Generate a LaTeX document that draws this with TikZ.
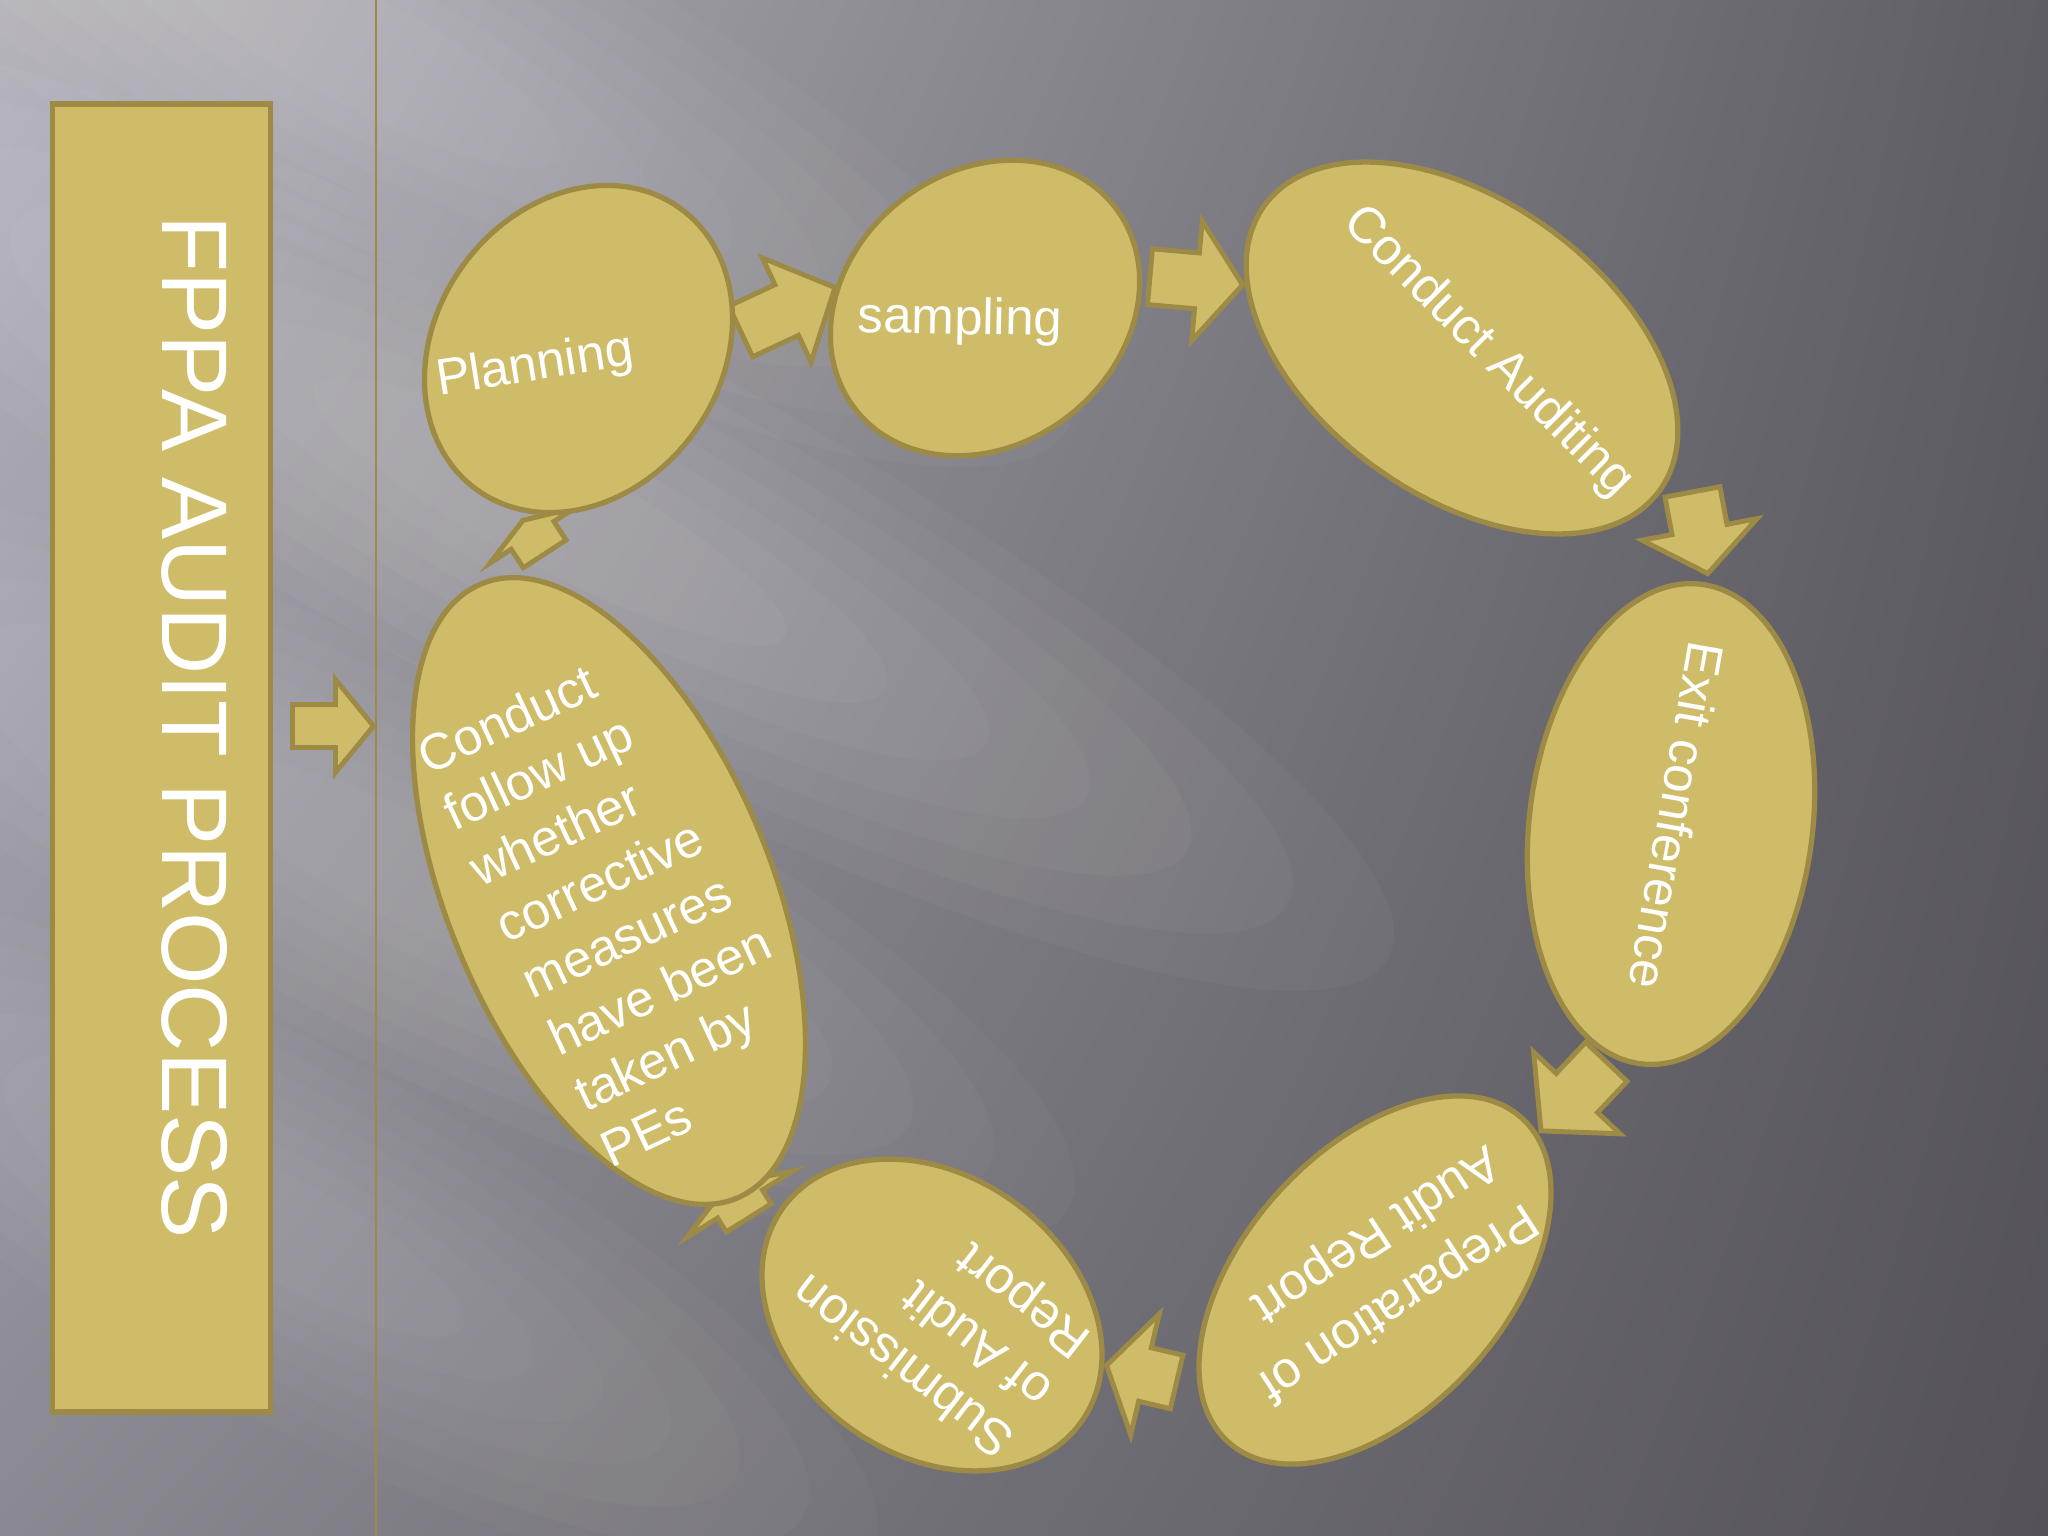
\documentclass[tikz,border=0pt]{standalone}
\usepackage{fontspec}
\setmainfont{Liberation Sans}
\usetikzlibrary{shapes.geometric,shapes.arrows,shadings}
\definecolor{goldF}{RGB}{207,188,105}
\definecolor{goldD}{RGB}{156,138,69}
\definecolor{bgUL}{RGB}{180,178,186}
\definecolor{bgUR}{RGB}{95,93,100}
\definecolor{bgLL}{RGB}{138,136,144}
\definecolor{bgLR}{RGB}{84,82,88}
% soft light streak: centre x, centre y, angle, half length, half width, opacity per layer
\newcommand\lightband[6]{%
  \begin{scope}[shift={(#1,#2)}, rotate=-#3]
    \foreach \k in {1,0.88,0.76,0.64,0.52,0.40,0.28}{
      \fill[white, opacity=#6] (0,0) ellipse [x radius=#4*\k*0.01cm, y radius=#5*\k*0.01cm];
    }
  \end{scope}}
\begin{document}
\begin{tikzpicture}[x=0.01cm, y=-0.01cm,
  ell/.style={shape=ellipse, draw=goldD, fill=goldF, line width=1.5pt, inner sep=0pt},
  lab/.style={text=white, inner sep=0pt, font=\fontsize{14.5pt}{17.6pt}\selectfont},
  titlebox/.style={shape=rectangle, draw=goldD, fill=goldF, line width=1.5pt, inner sep=0pt},
  titletext/.style={text=white, inner sep=0pt, rotate=-90, font=\fontsize{26.5pt}{30pt}\selectfont},
  barr/.style={shape=single arrow, draw=goldD, fill=goldF, line width=1.4pt, inner xsep=0pt, anchor=tail, line join=miter},
  ba/.style n args={6}{barr, rotate=#1, minimum height=#2, minimum width=#3, inner ysep=#4, single arrow head extend=#5, single arrow tip angle=#6},
  vline/.style={draw=goldD, line width=0.8pt}
]
\useasboundingbox (0,0) rectangle (2048,1536);
% background
\shade[upper left=bgUL, upper right=bgUR, lower left=bgLL, lower right=bgLR] (0,0) rectangle (2048,1536);
\begin{scope}
  \clip (0,0) rectangle (2048,1536);
  \lightband{362}{52}{28}{800}{200}{0.026}
  \lightband{550}{511}{28}{950}{200}{0.03}
  \lightband{401}{866}{27}{750}{190}{0.026}
  \lightband{303}{1239}{29}{650}{180}{0.022}
\end{scope}
% separator line
\draw[vline] (376,0) -- (376,1536);
% title box
\node[titlebox, minimum width=2.18cm, minimum height=13.07cm] (box) at (161.5,758) {};
\node[titletext] (title) at (195,727) {FPPA AUDIT PROCESS};
% block arrows
\node[ba={0}{0.81cm}{0.88cm}{0.19cm}{0.25cm}{101.4}] (a0) at (290,726) {};
\node[ba={25}{1.04cm}{1.10cm}{0.255cm}{0.295cm}{94.3}] (a1) at (738.5,332.5) {};
\node[ba={-5}{0.93cm}{1.15cm}{0.255cm}{0.32cm}{105.2}] (a2) at (1147.5,276.5) {};
\node[ba={-79.4}{0.83cm}{1.12cm}{0.255cm}{0.305cm}{105.0}] (a3) at (1692,489.5) {};
\node[ba={-133.4}{0.95cm}{1.14cm}{0.26cm}{0.31cm}{97.5}] (a4) at (1608,1060) {};
\node[ba={166.7}{0.72cm}{1.19cm}{0.25cm}{0.345cm}{114.9}] (a5) at (1179,1382.5) {};
\node[ba={122}{0.40cm}{1.20cm}{0.24cm}{0.36cm}{138.5}] (a6) at (750,1220) {};
\node[ba={123}{0.40cm}{0.96cm}{0.23cm}{0.25cm}{141}] (a7) at (546,556) {};
% ellipses
\node[ell, minimum width=3.47cm, minimum height=2.85cm, rotate=54] (e1) at (578.5,349) {};
\node[ell, minimum width=3.29cm, minimum height=2.73cm, rotate=37.9] (e2) at (985,308) {};
\node[ell, minimum width=4.87cm, minimum height=2.95cm, rotate=-35.7] (e3) at (1462,348) {};
\node[ell, minimum width=4.83cm, minimum height=2.83cm, rotate=82.8] (e4) at (1671,824) {};
\node[ell, minimum width=4.37cm, minimum height=2.61cm, rotate=47.7] (e5) at (1375,1280) {};
\node[ell, minimum width=3.67cm, minimum height=2.79cm, rotate=-35.6] (e6) at (932,1315) {};
\node[ell, minimum width=6.65cm, minimum height=3.23cm, rotate=-67.4] (e7) at (609,891) {};
% labels
\node[lab, rotate=9] (t1) at (535,367) {Planning};
\node[lab, rotate=-1] (t2) at (960,321) {sampling};
\node[lab, rotate=-45] (t3) at (1488,352) {Conduct Auditing};
\node[lab, rotate=-100] (t4) at (1677,816) {Exit conference};
\node[lab, rotate=213, align=left, font=\fontsize{14.5pt}{19.7pt}\selectfont] (t5) at (1378,1272) {Preparation of\\Audit Report};
\node[lab, rotate=142.3, align=left, font=\fontsize{14.5pt}{17.8pt}\selectfont] (t6) at (943,1314) {Submission\\of Audit\\Report};
\node[lab, rotate=25, align=left] (t7) at (620,905) {Conduct\\follow up\\whether\\corrective\\measures\\have been\\taken by\\PEs};
\end{tikzpicture}
\end{document}
